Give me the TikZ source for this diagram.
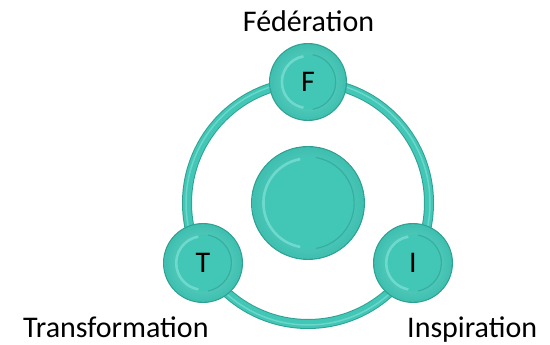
\documentclass[tikz,border=0pt]{standalone}
\usepackage{fontspec}
\setmainfont{Carlito}
\definecolor{tealmain}{HTML}{42C6B6}
\definecolor{tealdark}{HTML}{2A988A}
\definecolor{teallight}{HTML}{86E3D8}
\newcommand\mybead[4]{% x, y, outer r, inner ratio
  \fill[tealdark!80!tealmain] (#1,#2) circle (#3);
  \shade[inner color=teallight!70!tealmain, outer color=tealmain!85!tealdark] (#1,#2) circle ({#3-1.2});
  \fill[tealmain] (#1,#2) circle ({#3*#4});
  \draw[teallight!65!tealmain, line width=2.6] ([shift={(100:{#3*#4-1.6})}]#1,#2) arc (100:260:{#3*#4-1.6});
  \draw[tealdark!50!tealmain, line width=1.2] ([shift={(-80:{#3*#4})}]#1,#2) arc (-80:80:{#3*#4});
}
\begin{document}
\begin{tikzpicture}[x=1pt,y=1pt,
  lbl/.style={font=\fontsize{30}{36}\selectfont, inner sep=0pt, text=black},
  beadnode/.style={circle, inner sep=0pt, minimum size=78pt, font=\fontsize{30}{36}\selectfont, text=black},
  hubnode/.style={circle, inner sep=0pt, minimum size=114pt}]
\useasboundingbox (0,0) rectangle (550,345);
% ring
\coordinate (C) at (308,142);
\draw[tealdark!80!tealmain, line width=10] (C) circle (121);
\draw[tealmain, line width=8] (C) circle (121);
\draw[teallight!60!tealmain, line width=1.5] (C) circle (122);
% beads
\mybead{308}{263}{39}{0.71}
\mybead{203}{82}{40}{0.71}
\mybead{413}{82}{40}{0.71}
\mybead{308}{142}{57}{0.81}
\node[beadnode] (F) at (308,263) {F};
\node[beadnode] (T) at (203,82) {T};
\node[beadnode] (I) at (413,82) {I};
\node[hubnode] (H) at (C) {};
% labels
\node[lbl, anchor=base] (lF) at (308.5,313) {Fédération};
\node[lbl, anchor=base west] (lT) at (23,7.5) {Transformation};
\node[lbl, anchor=base west] (lI) at (407,7.5) {Inspiration};
\end{tikzpicture}
\end{document}
